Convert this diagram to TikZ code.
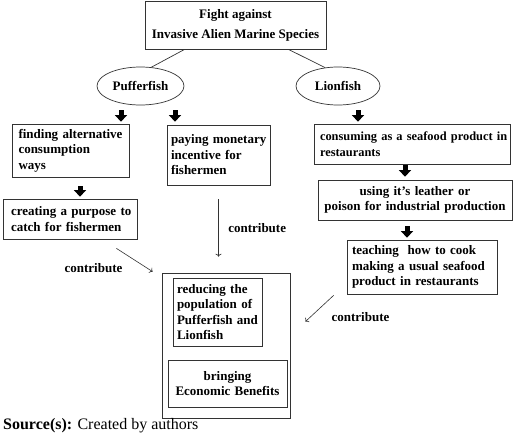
\documentclass[tikz,border=0pt]{standalone}
\usepackage{fontspec}
\setmainfont{Liberation Serif}
\usepackage{tikz}
\usetikzlibrary{shapes,arrows.meta,positioning}

\begin{document}
\begin{tikzpicture}[
    x=1pt, y=-1pt,
    box/.style={rectangle, draw=black!80, line width=0.7pt, inner xsep=0pt, inner ysep=2pt,
        font=\fontsize{13}{15.5}\selectfont\bfseries},
    oval/.style={ellipse, draw=black!80, line width=0.7pt, inner sep=0pt,
        font=\fontsize{13}{15.5}\selectfont\bfseries},
    link/.style={draw=black!80, line width=0.7pt},
    arrow/.style={->, >=To, draw=black!80, line width=0.6pt},
    blk/.style={line width=5pt, -{Triangle[length=6.5pt, width=12pt]}},
    lbl/.style={inner sep=0pt, font=\fontsize{13}{15.5}\selectfont\bfseries}
]
    \useasboundingbox[fill=white] (0,0) rectangle (520,442);

    \node[box, minimum width=181pt, minimum height=48pt, align=center,
        font=\fontsize{13}{20}\selectfont\bfseries] (title) at (235.5,25)
        {Fight against\\Invasive Alien Marine Species};
    \node[oval, minimum width=87pt, minimum height=38pt] (puffer) at (140.5,86) {Pufferfish};
    \node[oval, minimum width=84pt, minimum height=38pt] (lion) at (338,86) {Lionfish};

    \node[box, minimum width=117pt, minimum height=53pt, text width=104pt, align=left] (finding)
        at (70.5,150.5) {\mbox{finding alternative}\\consumption\\ways};
    \node[box, minimum width=103pt, minimum height=60pt, text width=95pt, align=left] (paying)
        at (218.5,155) {\mbox{paying monetary}\\incentive for\\fishermen};
    \node[box, minimum width=134pt, minimum height=40pt, text width=118pt, align=left] (creating)
        at (70,219) {\mbox{creating a purpose to}\\catch for fishermen};
    \node[box, minimum width=196pt, minimum height=40pt, text width=184pt, align=left,
        font=\fontsize{12.4}{15.5}\selectfont\bfseries] (consuming)
        at (412,144) {\mbox{consuming as a seafood product in}\\restaurants};
    \node[box, minimum width=194pt, minimum height=40pt, text width=186pt, align=center] (using)
        at (415,200) {using it's leather or\\\mbox{poison for industrial production}};
    \node[box, minimum width=150pt, minimum height=54pt, text width=140pt, align=left] (teaching)
        at (422,267) {teaching\ \ how to cook\\making a usual seafood\\product in restaurants};

    \node[box, minimum width=128pt, minimum height=145pt] (outer) at (226,345.5) {};
    \node[box, minimum width=89pt, minimum height=68pt, text width=81pt, align=left] (reduce)
        at (217.5,312) {reducing the\\population of\\\mbox{Pufferfish and}\\Lionfish};
    \node[box, minimum width=119pt, minimum height=47pt, text width=111pt, align=center] (benefit)
        at (227.5,383.5) {bringing\\Economic Benefits\\[7pt]};

    \draw[link] ([xshift=40pt]title.south west) -- (puffer.60);
    \draw[link] ([xshift=-38pt]title.south east) -- (lion.125);

    \coordinate (b1) at (121,110);
    \coordinate (b2) at (175,110);
    \coordinate (b3) at (358,110);
    \coordinate (b4) at (405,165);
    \coordinate (b5) at (407,226);
    \coordinate (b6) at (80,186);
    \draw[blk] (b1) -- ([yshift=2pt]b1 |- finding.north);
    \draw[blk] (b2) -- ([yshift=3pt]b2 |- paying.north);
    \draw[blk] (b3) -- ([yshift=2pt]b3 |- consuming.north);
    \draw[blk] (b4) -- ([yshift=3pt]b4 |- using.north);
    \draw[blk] (b5) -- ([yshift=2pt]b5 |- teaching.north);
    \draw[blk] (b6) -- ([yshift=2pt]b6 |- creating.north);

    \draw[arrow] ([xshift=-21pt, yshift=-9pt]creating.south east)
        -- node[lbl, midway, xshift=-41pt, yshift=-8pt] (c1) {contribute}
        ([xshift=-9pt, yshift=1pt]outer.north west);
    \draw[arrow] ([yshift=-14pt]paying.south)
        -- node[lbl, midway, right=9.5pt] (c2) {contribute}
        ([yshift=16pt]paying.south |- outer.north);
    \draw[arrow] ([xshift=-13pt, yshift=-1pt]teaching.south west)
        -- node[lbl, midway, xshift=41pt, yshift=-8.5pt] (c3) {contribute}
        ([xshift=15pt, yshift=-49pt]outer.north east);

    \node[anchor=west, inner sep=0pt, font=\fontsize{16}{18}\selectfont] (source) at (3,426)
        {\textbf{Source(s):} Created by authors};
\end{tikzpicture}
\end{document}
